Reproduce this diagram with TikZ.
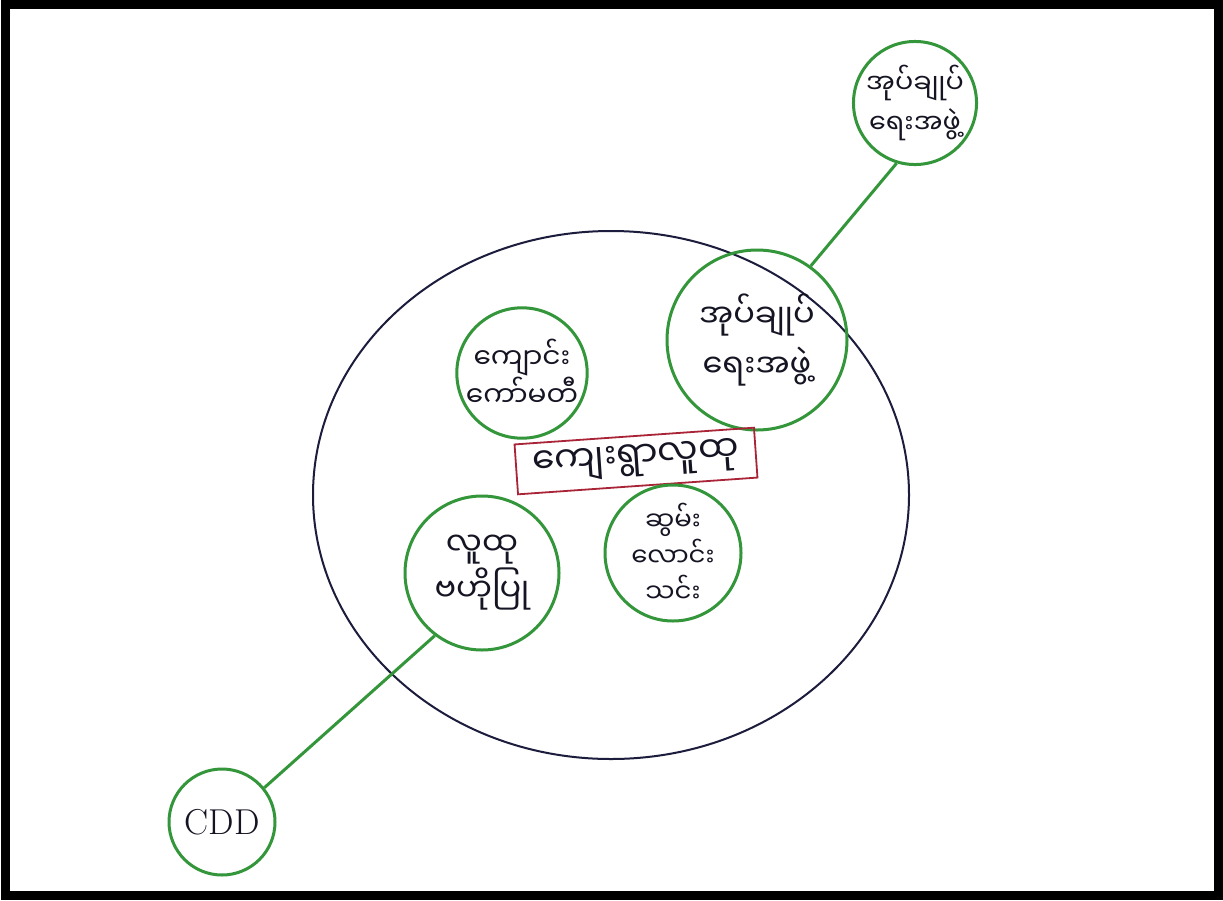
\documentclass[tikz,border=0pt]{standalone}
\usepackage{fontspec}
\newfontfamily\mmfont[Script=Myanmar]{Noto Sans Myanmar UI}
\definecolor{pengreen}{RGB}{52,150,58}
\definecolor{inknavy}{RGB}{28,28,60}
\definecolor{inkred}{RGB}{170,36,56}
\definecolor{inktext}{RGB}{20,20,35}
\begin{document}
\begin{tikzpicture}[x=1pt,y=-1pt,
  grp/.style={circle,draw=pengreen,line width=3pt,inner sep=0pt,align=center,
    text=inktext,font=\mmfont\fontsize{30}{44}\selectfont},
  link/.style={draw=pengreen,line width=3pt},
  mainbox/.style={draw=inkred,line width=1.8pt,minimum width=240pt,minimum height=50pt,
    inner sep=0pt,text=inktext,font=\mmfont\fontsize{36}{40}\selectfont}]
\useasboundingbox (0,0) rectangle (1223,900);
\fill[white] (0,0) rectangle (1223,900);
\draw[line width=9pt,black] (5,4) rectangle (1218,895);
% big community circle
\draw[inknavy,line width=2pt] (611,495) ellipse [x radius=298, y radius=264];
% groups
\node[grp,minimum size=120pt,font=\mmfont\fontsize{27}{40}\selectfont] (admout) at (915,103) {အုပ်ချုပ်\\ရေးအဖွဲ့};
\node[grp,minimum size=180pt,font=\mmfont\fontsize{32}{50}\selectfont] (admin) at (757,340) {အုပ်ချုပ်\\ရေးအဖွဲ့};
\node[grp,minimum size=126pt,font=\mmfont\fontsize{28}{36}\selectfont] (school) at (522,373) {ကျောင်း\\ကော်မတီ};
\node[mainbox,rotate=4] (village) at (636,461) {ကျေးရွာလူထု};
\node[grp,minimum size=154pt,font=\mmfont\fontsize{32}{46}\selectfont] (cdd) at (482,573) {လူထု\\ဗဟိုပြု};
\node[grp,minimum size=136pt,font=\mmfont\fontsize{26}{36}\selectfont] (alms) at (673,553) {ဆွမ်း\\လောင်း\\သင်း};
\node[grp,minimum size=106pt,font=\rmfamily\fontsize{36}{40}\selectfont] (cddout) at (222,822) {CDD};
% connectors
\draw[link] (admout.253) -- (admin.54);
\draw[link] (cdd.233) -- (cddout.39);
\end{tikzpicture}
\end{document}
